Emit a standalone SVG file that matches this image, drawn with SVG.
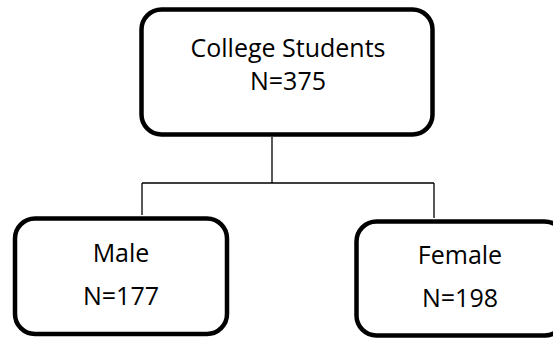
<svg xmlns="http://www.w3.org/2000/svg" width="553" height="338" viewBox="0 0 553 338">
<style>
.box{fill:#fff;stroke:#000;stroke-width:4.5}
.t{font-family:"Open Sans","Liberation Sans",sans-serif;font-size:25px;fill:#000;text-anchor:middle}
.c{fill:none;stroke:#000;stroke-width:1.3}
</style>
<rect width="553" height="338" fill="#fff"/>
<g id="connectors">
<path class="c" d="M272 137V183M142 183H434M142 183V215M434 183V218"/>
</g>
<g id="root">
<rect class="box" x="141.5" y="9.5" width="291" height="125" rx="20"/>
<text class="t" x="288" y="57">College Students</text>
<text class="t" x="288" y="90">N=375</text>
</g>
<g id="male">
<rect class="box" x="15" y="218.5" width="212" height="115.5" rx="20"/>
<text class="t" x="121" y="262">Male</text>
<text class="t" x="121" y="305">N=177</text>
</g>
<g id="female">
<rect class="box" x="356.5" y="221.5" width="208" height="114" rx="20"/>
<text class="t" x="460" y="264">Female</text>
<text class="t" x="460" y="307">N=198</text>
</g>
</svg>
